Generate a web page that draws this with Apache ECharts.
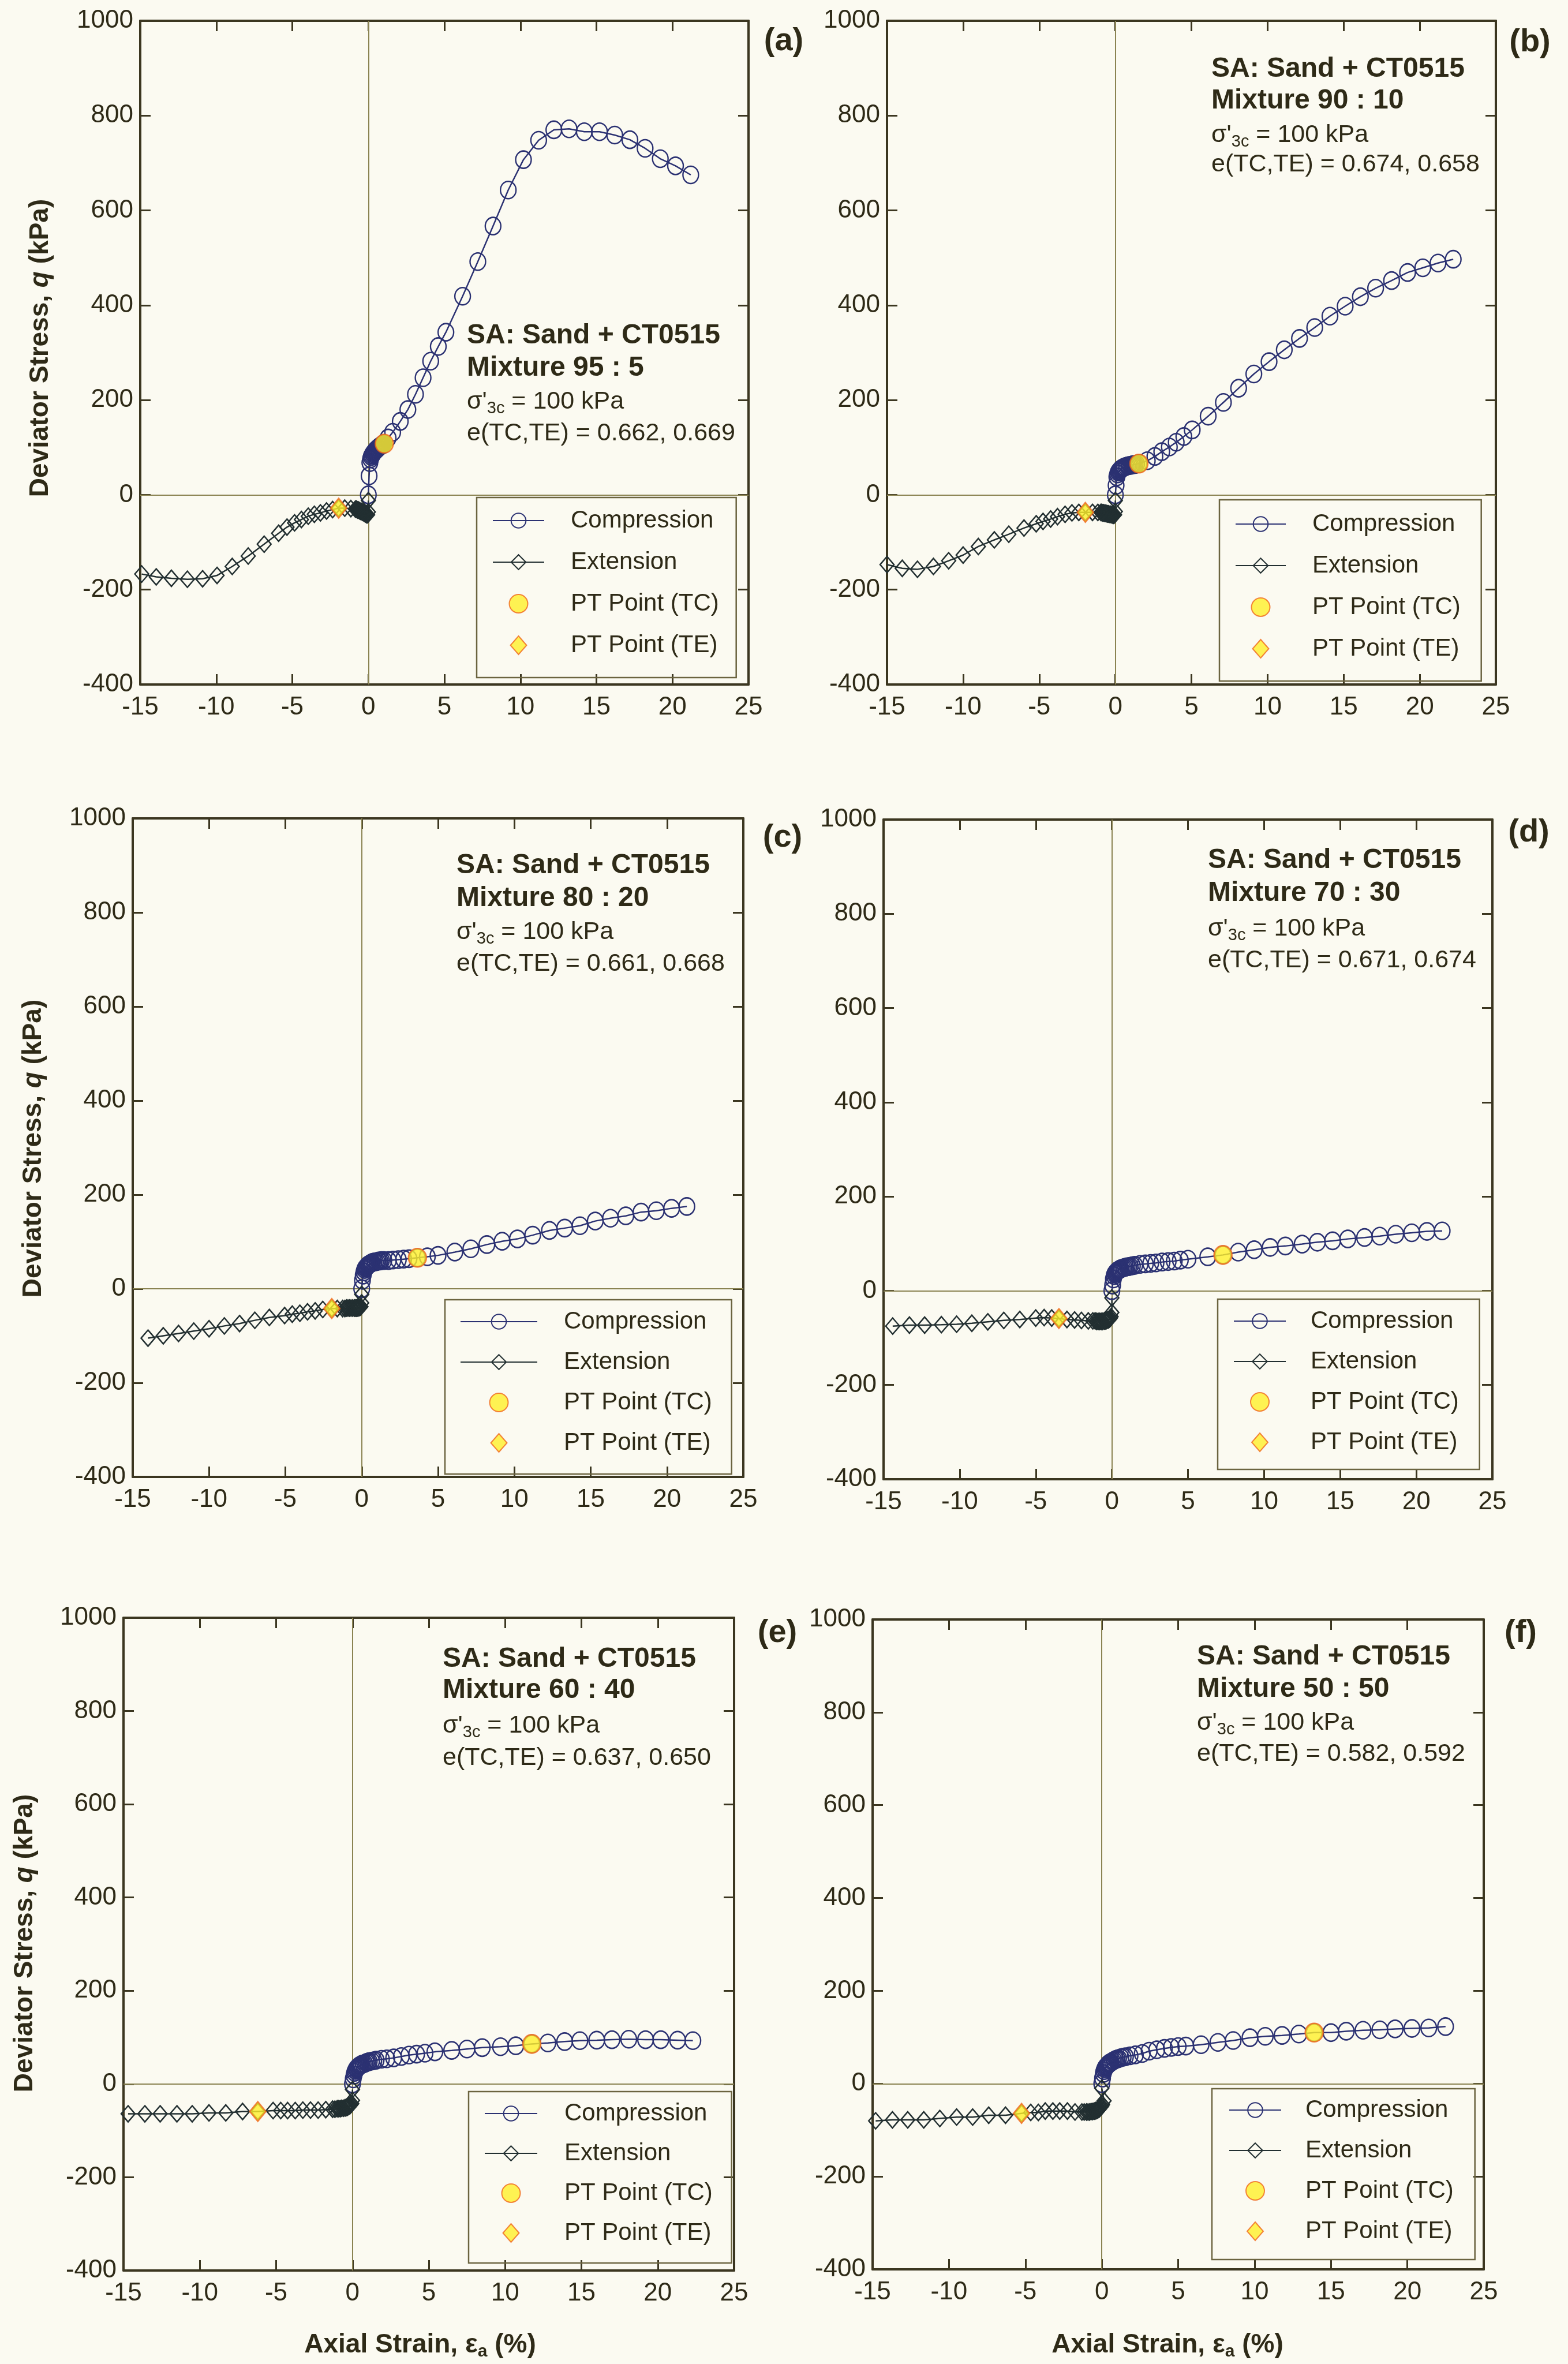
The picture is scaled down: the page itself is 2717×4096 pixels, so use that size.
<!DOCTYPE html>
<html>
<head>
<meta charset="utf-8">
<script src="https://cdn.jsdelivr.net/npm/echarts@6/dist/echarts.min.js"></script>
<style>
  html, body { margin: 0; padding: 0; background: #fbfaf1; }
  #chart { width: 2717px; height: 4096px; }
</style>
</head>
<body>
<div id="chart"></div>
<script>
// ---- Triaxial test curves: [axial strain (%), deviator stress q (kPa)] ----
// (a) Mixture 95 : 5
const compA = [[0,0],[0.05,40],[0.1,68],[0.15,76],[0.2,81],[0.25,84],[0.3,87],[0.35,89],[0.4,91],[0.45,93],[0.5,95],[0.55,96],[0.6,98],[0.65,99],[0.7,101],[0.75,102],[0.8,103],[0.85,104],[0.9,105],[0.95,106],[1.0,108],[1.3,120],[1.6,132],[2.1,155],[2.6,180],[3.1,212],[3.6,247],[4.1,282],[4.6,313],[5.1,343],[6.2,419],[7.2,492],[8.2,567],[9.2,643],[10.2,707],[11.2,748],[12.2,770],[13.2,772],[14.2,766],[15.2,766],[16.2,759],[17.2,749],[18.2,731],[19.2,709],[20.2,694],[21.2,675]];
const extA = [[0,-12],[0,-36],[-0.05,-42],[-0.1,-42],[-0.15,-41],[-0.2,-40],[-0.25,-39],[-0.3,-38],[-0.35,-37],[-0.4,-36],[-0.45,-35],[-0.5,-35],[-0.55,-34],[-0.6,-33],[-0.65,-32],[-0.7,-32],[-0.75,-31],[-0.8,-30],[-0.85,-30],[-1.15,-29],[-1.55,-28],[-1.95,-28],[-2.35,-31],[-2.75,-34],[-3.15,-38],[-3.55,-41],[-3.95,-45],[-4.4,-52],[-4.85,-59],[-5.35,-68],[-5.9,-81],[-6.85,-104],[-7.9,-129],[-8.95,-151],[-9.95,-170],[-10.9,-177],[-11.9,-178],[-12.95,-176],[-13.95,-173],[-14.9,-167]];
const ptcA = [1.05, 108];
const pteA = [-1.95, -28];

// (b) Mixture 90 : 10
const compB = [[0,0],[0.05,20],[0.1,38],[0.15,44],[0.2,48],[0.25,50],[0.3,52],[0.35,54],[0.4,55],[0.45,56],[0.5,57],[0.55,58],[0.6,59],[0.7,60],[0.8,61],[0.9,62],[1.0,62],[1.1,63],[1.2,64],[1.3,64],[1.4,65],[1.55,66],[2.1,72],[2.6,81],[3.05,91],[3.55,101],[4.0,111],[4.5,123],[5.05,137],[6.1,166],[7.1,195],[8.1,225],[9.1,255],[10.1,281],[11.1,306],[12.1,330],[13.1,353],[14.1,377],[15.1,398],[16.1,418],[17.1,436],[18.15,452],[19.2,469],[20.2,479],[21.2,489],[22.2,497]];
const extB = [[0,-12],[0,-35],[-0.05,-42],[-0.1,-43],[-0.15,-43],[-0.2,-42],[-0.25,-42],[-0.3,-41],[-0.35,-41],[-0.4,-41],[-0.45,-40],[-0.5,-40],[-0.55,-40],[-0.6,-39],[-0.65,-39],[-0.7,-39],[-0.75,-38],[-0.8,-38],[-0.85,-38],[-0.9,-37],[-0.95,-37],[-1.15,-37],[-1.5,-37],[-1.97,-37],[-2.4,-37],[-2.85,-38],[-3.3,-41],[-3.8,-46],[-4.25,-51],[-4.75,-56],[-5.2,-61],[-6.0,-70],[-7.0,-83],[-7.95,-95],[-9.0,-109],[-10.0,-127],[-10.95,-139],[-11.95,-151],[-13.0,-157],[-14.0,-155],[-15.0,-147]];
const ptcB = [1.55, 66];
const pteB = [-1.97, -37];

// (c) Mixture 80 : 20
const compC = [[0,0],[0.05,18],[0.1,29],[0.15,36],[0.2,41],[0.25,44],[0.3,46],[0.35,48],[0.4,50],[0.45,51],[0.5,52],[0.55,53],[0.6,54],[0.65,55],[0.7,56],[0.8,57],[0.9,57],[1.0,58],[1.1,59],[1.2,59],[1.3,60],[1.45,60],[1.75,60],[2.05,61],[2.4,62],[2.75,63],[3.1,64],[3.65,66],[4.3,68],[5.0,71],[6.1,78],[7.15,85],[8.2,94],[9.2,101],[10.2,106],[11.2,114],[12.3,124],[13.3,129],[14.3,134],[15.3,144],[16.3,150],[17.3,155],[18.3,163],[19.3,166],[20.3,171],[21.3,175]];
const extC = [[0,-12],[0,-30],[-0.05,-38],[-0.1,-39],[-0.15,-40],[-0.2,-40],[-0.25,-41],[-0.3,-41],[-0.35,-41],[-0.4,-41],[-0.45,-41],[-0.5,-41],[-0.6,-41],[-0.7,-41],[-0.8,-41],[-0.9,-41],[-1.0,-41],[-1.1,-42],[-1.25,-42],[-1.6,-42],[-1.96,-42],[-2.55,-44],[-3.05,-47],[-3.55,-49],[-4.05,-52],[-4.55,-54],[-5.05,-57],[-6.05,-61],[-7.0,-67],[-8.0,-74],[-9.0,-79],[-10.0,-85],[-11.0,-90],[-12.0,-95],[-13.0,-100],[-14.0,-105]];
const ptcC = [3.65, 66];
const pteC = [-1.96, -42];

// (d) Mixture 70 : 30
const compD = [[0,0],[0.05,12],[0.1,25],[0.15,32],[0.2,36],[0.25,38],[0.3,40],[0.35,42],[0.4,43],[0.45,44],[0.5,45],[0.55,46],[0.6,47],[0.7,48],[0.8,49],[0.9,50],[1.0,51],[1.1,51],[1.2,52],[1.35,53],[1.5,54],[1.85,56],[2.2,57],[2.55,58],[2.9,59],[3.3,61],[3.7,62],[4.1,63],[4.5,65],[5.0,67],[6.3,72],[7.3,76],[8.3,82],[9.35,87],[10.4,92],[11.4,95],[12.5,99],[13.5,103],[14.5,106],[15.5,110],[16.6,113],[17.6,116],[18.65,120],[19.7,123],[20.7,126],[21.7,127]];
const extD = [[0,-15],[0,-46],[-0.05,-55],[-0.1,-58],[-0.15,-60],[-0.2,-61],[-0.25,-62],[-0.3,-62],[-0.35,-63],[-0.4,-64],[-0.45,-64],[-0.5,-64],[-0.6,-65],[-0.7,-65],[-0.8,-65],[-0.9,-65],[-1.0,-65],[-1.1,-64],[-1.25,-64],[-1.55,-64],[-2.0,-63],[-2.45,-62],[-2.95,-61],[-3.48,-59],[-3.95,-58],[-4.45,-57],[-5.0,-58],[-6.05,-61],[-7.1,-63],[-8.15,-66],[-9.2,-69],[-10.2,-71],[-11.2,-72],[-12.3,-73],[-13.3,-73],[-14.4,-75]];
const ptcD = [7.3, 76];
const pteD = [-3.48, -59];

// (e) Mixture 60 : 40
const compE = [[0,0],[0.05,11],[0.1,19],[0.15,25],[0.2,29],[0.25,32],[0.3,34],[0.35,36],[0.4,37],[0.45,39],[0.5,40],[0.55,41],[0.6,42],[0.7,43],[0.8,44],[0.9,46],[1.0,47],[1.1,48],[1.25,49],[1.4,50],[1.55,51],[1.9,53],[2.25,54],[2.7,56],[3.2,59],[3.7,62],[4.2,64],[4.75,66],[5.4,69],[6.5,72],[7.5,75],[8.5,78],[9.7,80],[10.7,82],[11.75,86],[12.8,88],[13.9,91],[14.9,93],[16.0,94],[17.0,95],[18.1,96],[19.2,95],[20.2,95],[21.3,94],[22.3,93]];
const extE = [[0,-12],[0,-35],[-0.05,-42],[-0.1,-44],[-0.15,-46],[-0.2,-47],[-0.25,-48],[-0.3,-49],[-0.35,-50],[-0.4,-50],[-0.45,-51],[-0.5,-51],[-0.6,-52],[-0.7,-52],[-0.8,-53],[-0.9,-53],[-1.0,-53],[-1.15,-54],[-1.3,-54],[-1.75,-55],[-2.25,-56],[-2.75,-56],[-3.25,-56],[-3.75,-57],[-4.25,-57],[-4.7,-57],[-5.2,-57],[-6.2,-59],[-7.2,-59],[-8.3,-62],[-9.4,-62],[-10.5,-64],[-11.5,-64],[-12.6,-64],[-13.6,-64],[-14.7,-64]];
const ptcE = [11.75, 86];
const pteE = [-6.2, -59];

// (f) Mixture 50 : 50
const compF = [[0,0],[0.05,12],[0.1,22],[0.15,28],[0.2,32],[0.25,35],[0.3,37],[0.35,39],[0.4,41],[0.45,43],[0.5,44],[0.55,45],[0.6,46],[0.7,48],[0.8,50],[0.9,52],[1.0,53],[1.1,54],[1.25,56],[1.4,57],[1.55,58],[1.85,60],[2.2,62],[2.65,65],[3.1,70],[3.6,73],[4.1,76],[4.55,78],[5.0,80],[5.5,81],[6.5,84],[7.6,89],[8.6,93],[9.7,99],[10.7,102],[11.8,104],[12.9,107],[13.9,110],[15.0,110],[16.0,113],[17.1,115],[18.2,116],[19.2,118],[20.3,119],[21.4,120],[22.5,123]];
const extF = [[0,-10],[0.15,-37],[0.05,-45],[0,-48],[-0.05,-50],[-0.1,-52],[-0.15,-54],[-0.2,-55],[-0.25,-56],[-0.3,-57],[-0.35,-58],[-0.4,-58],[-0.45,-59],[-0.5,-59],[-0.6,-60],[-0.7,-60],[-0.8,-61],[-0.9,-61],[-1.0,-61],[-1.15,-61],[-1.3,-61],[-1.75,-61],[-2.25,-59],[-2.75,-59],[-3.2,-59],[-3.7,-59],[-4.15,-62],[-4.65,-62],[-5.25,-64],[-6.3,-68],[-7.4,-68],[-8.45,-72],[-9.5,-72],[-10.6,-75],[-11.65,-78],[-12.7,-78],[-13.7,-78],[-14.8,-80]];
const ptcF = [13.9, 110];
const pteF = [-5.25, -64];

// ---- Labels ----
const panelTags = ['(a)', '(b)', '(c)', '(d)', '(e)', '(f)'];
const mixtures = ['95 : 5', '90 : 10', '80 : 20', '70 : 30', '60 : 40', '50 : 50'];
const voidRatios = ['0.662, 0.669', '0.674, 0.658', '0.661, 0.668', '0.671, 0.674', '0.637, 0.650', '0.582, 0.592'];
const seriesNames = ['Compression', 'Extension', 'PT Point (TC)', 'PT Point (TE)'];
const strainRange = [-15, 25, 5];   // min, max, interval
const stressRange = [-400, 1000, 200];

const panels = [
  { comp: compA, ext: extA, ptc: ptcA, pte: pteA },
  { comp: compB, ext: extB, ptc: ptcB, pte: pteB },
  { comp: compC, ext: extC, ptc: ptcC, pte: pteC },
  { comp: compD, ext: extD, ptc: ptcD, pte: pteD },
  { comp: compE, ext: extE, ptc: ptcE, pte: pteE },
  { comp: compF, ext: extF, ptc: ptcF, pte: pteF }
];

// ---- Layout (px) ----
const grids = [
  { left: 243,  top: 36,   width: 1054, height: 1150 },
  { left: 1537, top: 36,   width: 1055, height: 1150 },
  { left: 230,  top: 1418, width: 1058, height: 1141 },
  { left: 1531, top: 1420, width: 1055, height: 1143 },
  { left: 214,  top: 2803, width: 1058, height: 1131 },
  { left: 1512, top: 2806, width: 1059, height: 1126 }
];
const legendBoxes = [
  { left: 826,  top: 862,  iw: 89,  pad: [19, 30, 35, 27], tp: 41, gap: 30 },
  { left: 2113, top: 866,  iw: 87,  pad: [21, 36, 35, 27], tp: 41, gap: 30 },
  { left: 771,  top: 2252, iw: 133, pad: [17, 34, 33, 26], tp: 41, gap: 28 },
  { left: 2110, top: 2251, iw: 90,  pad: [17, 36, 26, 27], tp: 38, gap: 28 },
  { left: 812,  top: 3624, iw: 91,  pad: [17, 33, 31, 27], tp: 42, gap: 27 },
  { left: 2100, top: 3619, iw: 90,  pad: [16, 37, 28, 29], tp: 37, gap: 28 }
];
const notePos = [
  { x: 809,  rows: [582, 638, 696, 751] },
  { x: 2099, rows: [120, 175, 234, 285] },
  { x: 791,  rows: [1500, 1557, 1615, 1670] },
  { x: 2093, rows: [1491, 1548, 1609, 1664] },
  { x: 767,  rows: [2875, 2929, 2990, 3046] },
  { x: 2074, rows: [2871, 2927, 2985, 3039] }
];
const tagPos = [[1358, 72], [2651, 74], [1356, 1452], [2649, 1443], [1347, 2830], [2635, 2830]];
const yTitlePos = [[70, 603], [58, 1990], [43, 3367]];
const xTitlePos = [[728, 4063], [2023, 4063]];

// ---- Styles ----
const FONT = '"Liberation Sans", Arial, sans-serif';
const INK = '#2e2a17';
const FRAME = '#3b3620';
const ZERO = '#8a8352';
const NAVY = '#2b3172';
const SLATE = '#222f31';
const YELLOW = '#fff02a';
const ORANGE = '#f0661c';
const DIAMOND_ICON = 'path://M14,0L28,16L14,32L0,16Z';

const xAxes = [], yAxes = [], series = [], legends = [], graphics = [];

panels.forEach((p, i) => {
  const axisCommon = {
    gridIndex: i,
    type: 'value',
    splitLine: { show: false },
    axisLine: { show: true, onZero: false, lineStyle: { color: FRAME, width: 4 } },
    axisTick: { show: true, inside: true, length: 18, lineStyle: { color: FRAME, width: 3 } }
  };
  // bottom and top strain axes
  xAxes.push(Object.assign({}, axisCommon, {
    position: 'bottom', min: strainRange[0], max: strainRange[1], interval: strainRange[2],
    axisLabel: { color: INK, fontSize: 44, fontFamily: FONT, margin: 18, formatter: v => String(v) }
  }));
  xAxes.push(Object.assign({}, axisCommon, {
    position: 'top', min: strainRange[0], max: strainRange[1], interval: strainRange[2],
    axisLabel: { show: false }
  }));
  // left and right stress axes
  yAxes.push(Object.assign({}, axisCommon, {
    position: 'left', min: stressRange[0], max: stressRange[1], interval: stressRange[2],
    axisLabel: { color: INK, fontSize: 44, fontFamily: FONT, margin: 12, formatter: v => String(v) }
  }));
  yAxes.push(Object.assign({}, axisCommon, {
    position: 'right', min: stressRange[0], max: stressRange[1], interval: stressRange[2],
    axisLabel: { show: false }
  }));

  const xi = 2 * i, yi = 2 * i;

  // zero reference lines
  series.push({
    type: 'line', xAxisIndex: xi, yAxisIndex: yi, data: [], silent: true, z: 1,
    markLine: {
      silent: true, z: 1, symbol: ['none', 'none'], animation: false,
      label: { show: false },
      lineStyle: { color: ZERO, width: 2, type: 'solid' },
      emphasis: { disabled: true },
      data: [{ xAxis: 0 }, { yAxis: 0 }]
    }
  });

  series.push({
    name: seriesNames[0], type: 'line', xAxisIndex: xi, yAxisIndex: yi, z: 3,
    data: p.comp, symbol: 'circle', symbolSize: [27, 30],
    lineStyle: { color: NAVY, width: 2.5 },
    itemStyle: { color: 'rgba(0,0,0,0)', borderColor: NAVY, borderWidth: 2.5 },
    emphasis: { disabled: true }
  });
  series.push({
    name: seriesNames[1], type: 'line', xAxisIndex: xi, yAxisIndex: yi, z: 3,
    data: p.ext, symbol: 'diamond', symbolSize: [24, 28],
    lineStyle: { color: SLATE, width: 2.5 },
    itemStyle: { color: 'rgba(0,0,0,0)', borderColor: SLATE, borderWidth: 2.5 },
    emphasis: { disabled: true }
  });
  series.push({
    name: seriesNames[2], type: 'scatter', xAxisIndex: xi, yAxisIndex: yi, z: 5,
    data: [p.ptc], symbol: 'circle', symbolSize: [31, 32],
    itemStyle: { color: YELLOW, borderColor: ORANGE, borderWidth: 2.5 },
    emphasis: { disabled: true }
  });
  series.push({
    name: seriesNames[3], type: 'scatter', xAxisIndex: xi, yAxisIndex: yi, z: 5,
    data: [p.pte], symbol: 'diamond', symbolSize: [28, 34],
    itemStyle: { color: YELLOW, borderColor: ORANGE, borderWidth: 2.5 },
    emphasis: { disabled: true }
  });

  const lb = legendBoxes[i];
  legends.push({
    orient: 'vertical', left: lb.left, top: lb.top,
    itemWidth: lb.iw, itemHeight: 32, itemGap: lb.gap,
    padding: lb.pad, borderColor: '#6b6440', borderWidth: 2.5,
    selectedMode: false, symbolKeepAspect: true,
    textStyle: { fontSize: 42, color: INK, fontFamily: FONT, padding: [0, 0, 0, lb.tp] },
    data: [
      { name: seriesNames[0] },
      { name: seriesNames[1] },
      { name: seriesNames[2], icon: 'circle' },
      { name: seriesNames[3], icon: DIAMOND_ICON }
    ]
  });
});

// ---- Text annotations ----
const measureCtx = document.createElement('canvas').getContext('2d');
function textWidth(str, font) { measureCtx.font = font; return measureCtx.measureText(str).width; }
function txt(x, y, text, font, align) {
  return {
    type: 'text', x: x, y: y, silent: true, z: 20,
    style: { text: text, font: font, fill: INK, align: align || 'left', verticalAlign: 'middle',
             textAlign: align || 'left', textVerticalAlign: 'middle' }
  };
}
const BOLD_NOTE = 'bold 48px ' + FONT;
const REG_NOTE = '43px ' + FONT;
const SUB_NOTE = '29px ' + FONT;

panels.forEach((p, i) => {
  const n = notePos[i];
  graphics.push(txt(n.x, n.rows[0], 'SA: Sand + CT0515', BOLD_NOTE));
  graphics.push(txt(n.x, n.rows[1], 'Mixture ' + mixtures[i], BOLD_NOTE));
  const w1 = textWidth("σ'", REG_NOTE);
  const w2 = textWidth('3c', SUB_NOTE);
  graphics.push(txt(n.x, n.rows[2], "σ'", REG_NOTE));
  graphics.push(txt(n.x + w1, n.rows[2] + 12, '3c', SUB_NOTE));
  graphics.push(txt(n.x + w1 + w2, n.rows[2], ' = 100 kPa', REG_NOTE));
  graphics.push(txt(n.x, n.rows[3], 'e(TC,TE) = ' + voidRatios[i], REG_NOTE));
  graphics.push(txt(tagPos[i][0], tagPos[i][1], panelTags[i], 'bold 56px ' + FONT, 'center'));
});

// stress axis titles (left column)
yTitlePos.forEach(pos => {
  graphics.push({
    type: 'text', x: pos[0], y: pos[1], rotation: Math.PI / 2, silent: true, z: 20,
    style: {
      text: '{b|Deviator Stress, }{i|q}{b| (kPa)}',
      fill: INK, align: 'center', verticalAlign: 'middle', textAlign: 'center', textVerticalAlign: 'middle',
      rich: {
        b: { fontSize: 46, fontWeight: 'bold', fontFamily: FONT, fill: INK },
        i: { fontSize: 46, fontWeight: 'bold', fontStyle: 'italic', fontFamily: FONT, fill: INK }
      }
    }
  });
});

// strain axis titles (bottom row)
const TITLE_FONT = 'bold 46px ' + FONT;
const TITLE_SUB = 'bold 30px ' + FONT;
xTitlePos.forEach(pos => {
  const a = 'Axial Strain, ε', b = 'a', c = ' (%)';
  const wa = textWidth(a, TITLE_FONT), wb = textWidth(b, TITLE_SUB), wc = textWidth(c, TITLE_FONT);
  const x0 = pos[0] - (wa + wb + wc) / 2;
  graphics.push(txt(x0, pos[1], a, TITLE_FONT));
  graphics.push(txt(x0 + wa, pos[1] + 12, b, TITLE_SUB));
  graphics.push(txt(x0 + wa + wb, pos[1], c, TITLE_FONT));
});

const chart = echarts.init(document.getElementById('chart'), null, { renderer: 'canvas' });
chart.setOption({
  backgroundColor: '#fbfaf1',
  animation: false,
  grid: grids.map(g => Object.assign({ containLabel: false }, g)),
  xAxis: xAxes,
  yAxis: yAxes,
  legend: legends,
  series: series,
  graphic: { elements: graphics }
});
</script>
</body>
</html>
